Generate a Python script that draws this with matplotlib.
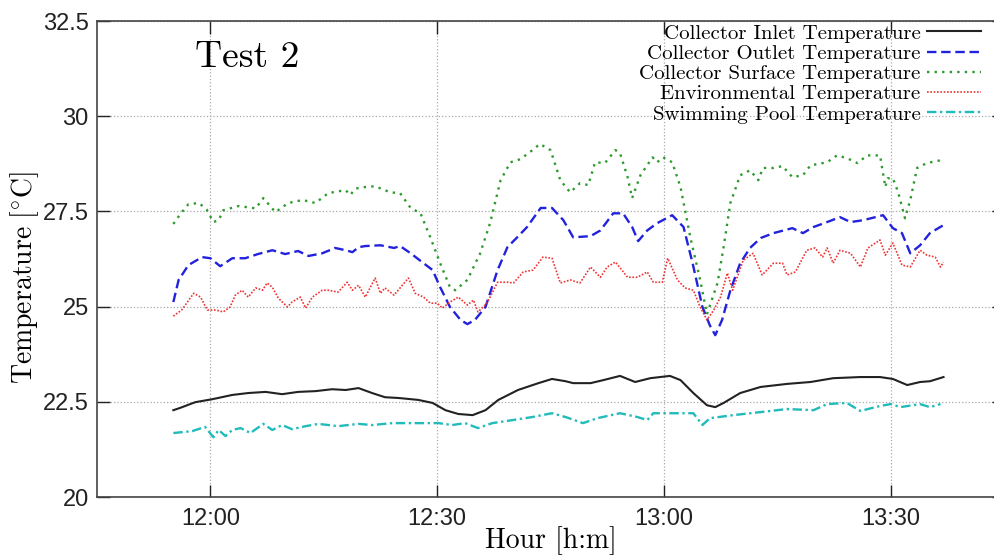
import numpy as np
import matplotlib
matplotlib.use("Agg")
import matplotlib.pyplot as plt

plt.rcParams['font.family'] = ['Liberation Sans', 'DejaVu Sans']
plt.rcParams['mathtext.fontset'] = 'cm'

# minutes after 12:00
x_ticks = [0, 30, 60, 90]
x_tick_labels = ["12:00", "12:30", "13:00", "13:30"]
y_ticks = [20, 22.5, 25, 27.5, 30, 32.5]
y_tick_labels = ["20", "22.5", "25", "27.5", "30", "32.5"]

labels = ["Collector Inlet Temperature", "Collector Outlet Temperature",
          "Collector Surface Temperature", "Environmental Temperature",
          "Swimming Pool Temperature"]

t_inlet = [-4.9, -4.0, -2.0, 0.3, 2.9, 5.0, 7.3, 9.5, 11.6, 13.9, 16.1, 17.9, 19.6, 21.4, 23.1,
           24.9, 27.5, 29.4, 31.1, 32.8, 34.7, 36.4, 38.1, 40.7, 43.4, 45.2, 47.0, 48.0, 50.3,
           52.0, 54.2, 56.2, 58.2, 60.8, 62.2, 63.9, 65.7, 66.8, 67.9, 70.1, 72.8, 76.3, 79.4,
           82.4, 86.0, 88.6, 90.3, 92.2, 93.9, 95.2, 97.0]
v_inlet = [22.28, 22.34, 22.49, 22.57, 22.68, 22.73, 22.76, 22.70, 22.76, 22.78, 22.83, 22.81,
           22.86, 22.73, 22.62, 22.60, 22.55, 22.47, 22.28, 22.18, 22.15, 22.28, 22.55, 22.81,
           22.99, 23.10, 23.04, 22.99, 22.99, 23.07, 23.18, 23.02, 23.12, 23.18, 23.07, 22.73,
           22.41, 22.36, 22.47, 22.73, 22.89, 22.97, 23.02, 23.12, 23.15, 23.15, 23.10, 22.94,
           23.02, 23.04, 23.15]

t_outlet = [-4.9, -4.2, -2.9, -1.1, 0.0, 1.3, 2.9, 4.6, 6.3, 8.2, 9.9, 11.6, 13.0, 14.8, 16.5,
            17.9, 18.8, 19.6, 20.5, 22.5, 24.3, 25.1, 26.5, 28.2, 29.4, 30.4, 31.7, 33.1, 34.0,
            35.0, 36.4, 38.0, 39.3, 40.6, 41.9, 43.7, 45.2, 46.7, 48.0, 50.3, 51.6, 53.3, 54.6,
            55.8, 56.6, 57.8, 59.1, 61.1, 62.6, 63.8, 65.1, 66.1, 66.8, 67.7, 68.8, 70.1, 71.4,
            72.8, 74.5, 77.0, 78.4, 79.8, 81.6, 83.3, 84.7, 86.4, 89.0, 90.3, 91.5, 92.6, 93.9,
            95.2, 97.0]
v_outlet = [25.12, 25.70, 26.09, 26.30, 26.27, 26.06, 26.27, 26.27, 26.38, 26.48, 26.38, 26.46,
            26.33, 26.40, 26.54, 26.48, 26.43, 26.56, 26.59, 26.61, 26.54, 26.59, 26.40, 26.14,
            25.96, 25.51, 24.99, 24.65, 24.54, 24.65, 24.99, 25.96, 26.56, 26.82, 27.09, 27.59,
            27.59, 27.27, 26.82, 26.85, 27.00, 27.45, 27.45, 27.09, 26.72, 27.00, 27.19, 27.40,
            27.09, 26.14, 24.99, 24.50, 24.25, 24.65, 25.43, 26.14, 26.54, 26.80, 26.93, 27.06,
            26.93, 27.09, 27.22, 27.35, 27.22, 27.27, 27.40, 27.06, 26.93, 26.40, 26.61, 26.93,
            27.14]

t_surface = [-4.9, -3.9, -2.9, -1.5, -0.5, 0.4, 1.1, 1.7, 3.7, 6.0, 7.0, 8.6, 10.3, 12.2, 13.9,
             15.6, 17.9, 18.5, 19.2, 20.5, 21.8, 23.8, 25.1, 26.5, 27.8, 29.1, 30.4, 31.7, 32.4,
             34.0, 35.7, 37.0, 38.4, 39.7, 41.0, 42.3, 43.6, 45.0, 46.3, 47.6, 48.9, 50.0, 50.9,
             52.2, 53.6, 54.2, 55.2, 55.8, 56.9, 58.5, 59.1, 59.9, 61.1, 62.2, 63.5, 64.8, 65.7,
             67.1, 67.9, 68.8, 70.1, 71.4, 72.5, 73.1, 74.5, 75.7, 77.0, 78.4, 79.4, 81.6, 82.9,
             84.2, 85.6, 86.9, 88.6, 89.3, 89.6, 90.3, 91.0, 91.9, 92.6, 93.5, 94.8, 96.8]
v_surface = [27.17, 27.45, 27.69, 27.72, 27.55, 27.22, 27.27, 27.53, 27.64, 27.58, 27.85, 27.48,
             27.72, 27.80, 27.72, 27.98, 28.06, 27.93, 28.10, 28.14, 28.16, 28.00, 27.98, 27.59,
             27.45, 26.82, 26.14, 25.51, 25.43, 25.70, 26.40, 27.19, 28.32, 28.79, 28.87, 29.06,
             29.27, 29.11, 28.32, 28.00, 28.24, 28.19, 28.79, 28.77, 29.11, 29.03, 28.40, 27.85,
             28.45, 28.92, 28.79, 28.92, 28.79, 28.14, 26.82, 25.70, 24.80, 25.62, 26.56, 27.72,
             28.45, 28.58, 28.32, 28.64, 28.64, 28.69, 28.40, 28.45, 28.71, 28.79, 28.97, 28.90,
             28.77, 28.97, 28.97, 28.14, 28.37, 28.37, 28.00, 27.32, 27.80, 28.64, 28.77, 28.85]

t_env = [-4.9, -3.8, -2.2, -1.3, -0.4, 0.7, 1.7, 2.6, 3.3, 4.2, 5.0, 6.0, 6.9, 7.5, 8.2, 9.0,
         10.2, 10.8, 11.9, 12.6, 13.5, 14.8, 15.6, 16.9, 18.1, 18.8, 19.6, 20.5, 21.8, 22.5, 23.1,
         24.3, 25.1, 26.2, 27.1, 28.2, 29.1, 30.0, 30.7, 31.7, 32.8, 34.0, 34.8, 35.4, 36.6, 38.0,
         39.3, 40.1, 41.4, 42.7, 44.0, 45.2, 46.3, 47.6, 48.9, 50.3, 51.6, 52.5, 53.6, 55.2, 56.5,
         57.8, 58.6, 59.8, 60.5, 61.8, 62.8, 63.9, 64.8, 65.7, 66.6, 67.5, 68.4, 69.1, 70.5, 71.8,
         73.0, 74.5, 75.7, 76.3, 77.4, 78.9, 80.0, 81.0, 81.6, 82.4, 83.3, 84.7, 86.0, 87.0, 88.6,
         89.3, 90.3, 91.5, 92.6, 93.9, 94.8, 95.9, 96.6, 97.0]
v_env = [24.75, 24.91, 25.35, 25.25, 24.91, 24.91, 24.86, 24.99, 25.30, 25.43, 25.25, 25.49,
         25.43, 25.62, 25.51, 25.22, 24.99, 25.12, 25.25, 24.96, 25.25, 25.43, 25.43, 25.38,
         25.64, 25.43, 25.56, 25.25, 25.75, 25.35, 25.49, 25.30, 25.49, 25.75, 25.35, 25.25,
         25.09, 25.09, 24.96, 25.12, 25.25, 25.04, 25.17, 24.86, 25.09, 25.64, 25.64, 25.62,
         25.91, 25.96, 26.30, 26.27, 25.62, 25.70, 25.62, 26.04, 25.77, 26.04, 26.17, 25.77,
         25.77, 25.91, 25.64, 25.64, 26.27, 25.70, 25.49, 25.43, 24.99, 24.65, 24.91, 25.25,
         25.88, 25.43, 26.22, 26.40, 25.83, 26.14, 26.14, 25.83, 25.91, 26.48, 26.54, 26.30,
         26.54, 26.14, 26.48, 26.40, 26.04, 26.54, 26.75, 26.35, 26.67, 26.09, 26.04, 26.48,
         26.35, 26.30, 26.04, 26.17]

t_pool = [-4.9, -2.4, -0.7, 0.4, 1.1, 2.0, 2.9, 4.0, 5.3, 7.0, 8.2, 9.5, 10.8, 12.6, 14.3, 16.9,
          19.6, 21.4, 24.1, 27.5, 30.2, 32.0, 33.7, 35.4, 37.3, 40.0, 42.6, 45.2, 47.0, 49.3,
          51.2, 54.2, 56.5, 57.8, 58.6, 61.2, 63.9, 65.1, 66.1, 69.2, 72.8, 76.3, 79.8, 81.6,
          84.2, 86.0, 88.6, 90.0, 91.3, 93.9, 95.2, 96.6]
v_pool = [21.68, 21.73, 21.84, 21.57, 21.76, 21.60, 21.76, 21.81, 21.68, 21.92, 21.76, 21.89,
          21.78, 21.86, 21.92, 21.86, 21.92, 21.89, 21.94, 21.94, 21.94, 21.89, 21.94, 21.81,
          21.94, 22.02, 22.10, 22.20, 22.10, 21.94, 22.07, 22.20, 22.10, 22.02, 22.20, 22.20,
          22.20, 21.89, 22.07, 22.15, 22.23, 22.31, 22.28, 22.44, 22.47, 22.26, 22.39, 22.44,
          22.36, 22.44, 22.36, 22.44]

series = [(t_inlet, v_inlet, '#222222', '-', 1.5),
          (t_outlet, v_outlet, '#2222dd', (0, (4, 2)), 1.7),
          (t_surface, v_surface, '#2e9a2e', (0, (1, 2.2)), 1.7),
          (t_env, v_env, '#ee3333', (0, (1, 1)), 1.2),
          (t_pool, v_pool, '#22bbbb', (0, (4, 1.5, 1, 1.5)), 1.7)]

fig = plt.figure(figsize=(9.94, 5.56), dpi=100)
ax = fig.add_axes([97/994, 59/556, 907/994, 476/556])

for (t, v, c, ls, lw), lab in zip(series, labels):
    ax.plot(t, v, color=c, linestyle=ls, linewidth=lw, label=lab)

ax.set_xlim(-15, 105)
ax.set_ylim(20, 32.5)
ax.set_xticks(x_ticks)
ax.set_xticklabels(x_tick_labels)
ax.set_yticks(y_ticks)
ax.set_yticklabels(y_tick_labels)
ax.tick_params(direction='in', length=9, width=1, top=True, right=True,
               labelsize=17, colors='#222222')
ax.tick_params(axis='y', pad=6)
ax.tick_params(axis='x', pad=8)
ax.grid(True, color='#aaaaaa', linestyle=':', linewidth=0.9)
for s in ax.spines.values():
    s.set_color('#444444')
    s.set_linewidth(1.2)

ax.set_xlabel('Hour [h:m]', fontfamily='cmr10', fontsize=20, labelpad=-3)
ax.set_ylabel(r'$\mathrm{Temperature\ [^{\circ}C]}$', fontsize=20)
ax.yaxis.set_label_coords(-0.062, 0.46)

ax.text(0.108, 0.903, 'Test 2', transform=ax.transAxes, fontfamily='cmr10',
        fontsize=27, va='baseline', ha='left')

leg = ax.legend(loc='upper right', bbox_to_anchor=(981/994, 1 - 24/556),
                bbox_transform=fig.transFigure, frameon=False, markerfirst=False,
                prop={'family': 'cmr10', 'size': 15}, handlelength=2.6,
                handletextpad=0.3, labelspacing=0.08, borderpad=0, borderaxespad=0)

plt.savefig('out.png', dpi=100)
